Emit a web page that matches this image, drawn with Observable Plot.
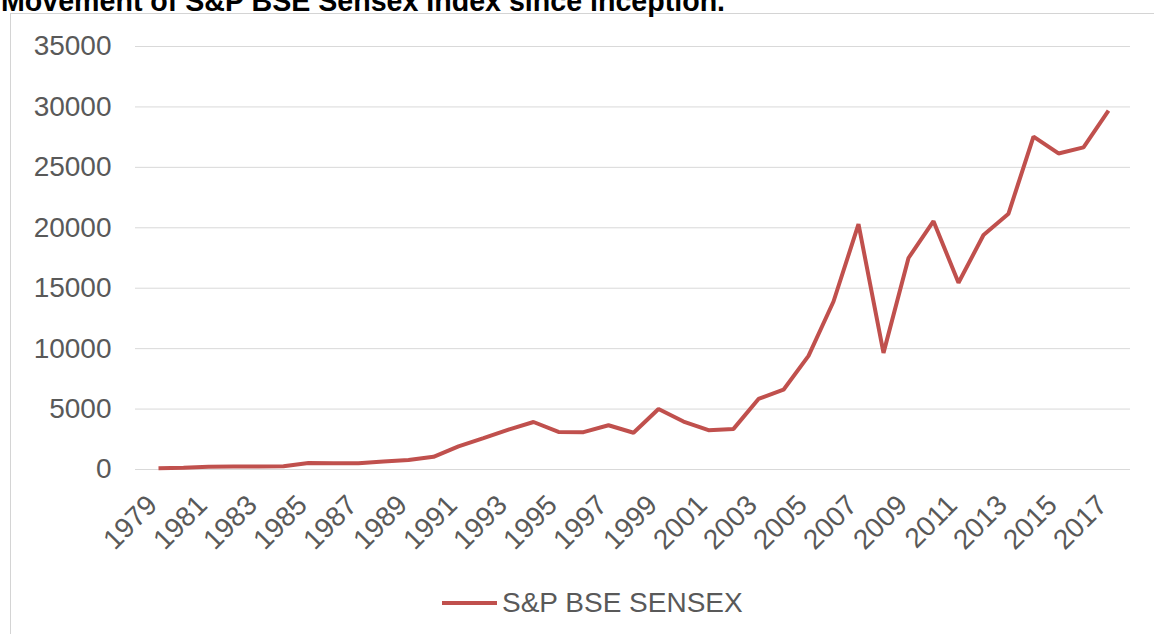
<!DOCTYPE html>
<html>
<head>
<meta charset="utf-8">
<script src="https://cdn.jsdelivr.net/npm/d3@7"></script>
<script src="https://cdn.jsdelivr.net/npm/@observablehq/plot@0.6"></script>
<style>
  html, body { margin: 0; padding: 0; background: #fff; overflow: hidden; }
  #wrap { position: relative; width: 1154px; height: 634px; overflow: hidden; font-family: "Liberation Sans", Arial, sans-serif; }
  #title { position: absolute; left: 1px; top: -13px; font-size: 28.6px; line-height: 28.6px; font-weight: bold; color: #000; white-space: nowrap; }
  #frame { position: absolute; left: 10px; top: 13px; width: 1170px; height: 650px; border: 1px solid #d4d4d4; box-sizing: border-box; }
  #chart { position: absolute; left: 0; top: 0; }
  #legend { position: absolute; left: 442px; top: 586px; height: 34px; display: flex; align-items: center; font-size: 28px; color: #595959; white-space: nowrap; }
  #legend .sw { width: 55px; height: 4px; background: #c0504d; margin-right: 5px; }
</style>
</head>
<body>
<div id="wrap">
  <div id="frame"></div>
  <div id="title">Movement of S&amp;P BSE Sensex Index since inception.</div>
  <div id="chart"></div>
  <div id="legend"><span class="sw"></span><span id="legendText"></span></div>
</div>
<script>
const seriesName = "S&P BSE SENSEX";
const years = [1979,1980,1981,1982,1983,1984,1985,1986,1987,1988,1989,1990,1991,1992,1993,1994,1995,1996,1997,1998,1999,2000,2001,2002,2003,2004,2005,2006,2007,2008,2009,2010,2011,2012,2013,2014,2015,2016,2017];
const values = [100,150,230,250,240,270,530,520,510,670,780,1050,1910,2600,3300,3930,3110,3090,3660,3040,5010,3970,3250,3360,5840,6600,9400,13900,20300,9650,17500,20550,15450,19400,21170,27550,26150,26650,29700];
const yTicks = [0,5000,10000,15000,20000,25000,30000,35000];
const xTickYears = [1979,1981,1983,1985,1987,1989,1991,1993,1995,1997,1999,2001,2003,2005,2007,2009,2011,2013,2015,2017];

const rows = years.map((y, i) => ({year: y, value: values[i]}));

const chart = Plot.plot({
  width: 1154,
  height: 634,
  marginLeft: 135,
  marginRight: 24,
  marginTop: 46,
  marginBottom: 165,
  style: {fontFamily: "'Liberation Sans', Arial, sans-serif", color: "#595959", background: "transparent", overflow: "visible"},
  x: {type: "point", domain: years, padding: 0.5},
  y: {domain: [0, 35000]},
  marks: [
    Plot.gridY(yTicks, {stroke: "#d9d9d9", strokeOpacity: 1, strokeWidth: 1}),
    Plot.axisY(yTicks, {tickSize: 0, tickPadding: 24, fontSize: 28, label: null, tickFormat: d => String(d)}),
    Plot.axisX(xTickYears, {tickSize: 0, tickPadding: 31, dx: -6, tickRotate: -45, fontSize: 28, label: null, tickFormat: d => String(d)}),
    Plot.line(rows, {x: "year", y: "value", stroke: "#c0504d", strokeWidth: 4, strokeLinejoin: "miter", strokeLinecap: "butt"})
  ]
});
document.getElementById("chart").appendChild(chart);
document.getElementById("legendText").textContent = seriesName;
</script>
</body>
</html>
